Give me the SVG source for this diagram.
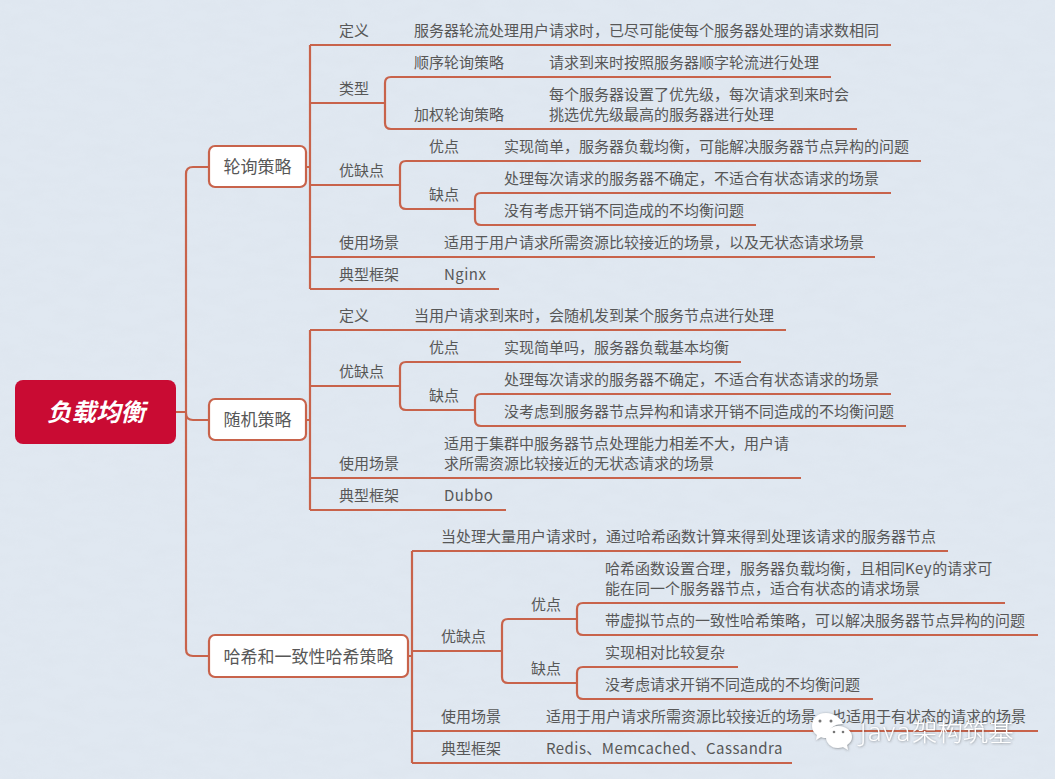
<svg xmlns="http://www.w3.org/2000/svg" width="1055" height="779" viewBox="0 0 1055 779">
<defs>
<filter id="paper" x="0" y="0" width="100%" height="100%"><feTurbulence type="fractalNoise" baseFrequency="0.035 0.09" numOctaves="4" seed="7"/><feColorMatrix values="0 0 0 0 0.62  0 0 0 0 0.66  0 0 0 0 0.72  0.5 0 0 0 -0.17"/></filter>
<filter id="wm" x="-10%" y="-20%" width="120%" height="140%"><feDropShadow dx="0.5" dy="0.5" stdDeviation="0.8" flood-color="#444" flood-opacity="0.6"/></filter>
</defs>
<style>
text{font-family:"Noto Sans CJK SC","Open Sans",sans-serif;font-size:15px;fill:#575757}
.c path{fill:none;stroke:#c8634b;stroke-width:2.2}
.n rect{fill:#fff;stroke:#c8634b;stroke-width:2.2}
.n text{font-size:17px;text-anchor:middle}
.l{letter-spacing:.45px}
.wt{font-family:"Open Sans","Noto Sans CJK SC",sans-serif;font-size:25.4px;font-weight:300;fill:#fff}
</style>
<rect width="1055" height="779" fill="#e0e8f1"/>
<rect width="1055" height="779" filter="url(#paper)" opacity="0.35"/>
<g id="connectors" class="c">
<path d="M176 412H186M208 167H193Q186 167 186 174V649Q186 656 193 656H208M186 413Q186 420 193 420H208"/>
<path d="M306 167H310M310 45V289M310 45H891M310 103H385M385 83Q385 77 391 77H831M385 83V123Q385 129 391 129H857M310 185H400M400 167Q400 161 406 161H921M400 167V203Q400 209 406 209H475M475 199Q475 193 481 193H891M475 199V219Q475 225 481 225H756M310 257H875M310 289H499"/>
<path d="M306 420H310M310 330V510M310 330H786M310 386H400M400 368Q400 362 406 362H741M400 368V404Q400 410 406 410H475M475 400Q475 394 481 394H891M475 400V420Q475 426 481 426H906M310 478H801M310 510H506"/>
<path d="M408 656H412M412 551V763M412 551H948M412 651H502M502 625Q502 619 508 619H577M502 625V677Q502 683 508 683H577M577 609Q577 603 583 603H1005M577 609V629Q577 635 583 635H1038M577 673Q577 667 583 667H738M577 673V693Q577 699 583 699H873M412 731H1038M412 763H792"/>
</g>
<g id="root"><rect x="15" y="380" width="161" height="64" rx="8" fill="#c90b33"/><text x="96" y="421" text-anchor="middle" style="font-size:24.500px;font-weight:700;font-style:italic;fill:#fff">负载均衡</text></g>
<g id="n1" class="n"><rect x="209" y="146" width="97" height="41" rx="6"/><text x="257.500" y="173">轮询策略</text></g>
<g id="n2" class="n"><rect x="209" y="399" width="97" height="41" rx="6"/><text x="257.500" y="426">随机策略</text></g>
<g id="n3" class="n"><rect x="209" y="635" width="199" height="42" rx="6"/><text x="308.500" y="663">哈希和一致性哈希策略</text></g>
<g id="b1">
<text x="339" y="36">定义</text><text x="414" y="36">服务器轮流处理用户请求时，已尽可能使每个服务器处理的请求数相同</text>
<text x="339" y="94">类型</text><text x="414" y="68">顺序轮询策略</text><text x="549" y="68">请求到来时按照服务器顺字轮流进行处理</text>
<text x="414" y="120">加权轮询策略</text><text x="549" y="100">每个服务器设置了优先级，每次请求到来时会</text><text x="549" y="120">挑选优先级最高的服务器进行处理</text>
<text x="339" y="176">优缺点</text><text x="429" y="152">优点</text><text x="504" y="152">实现简单，服务器负载均衡，可能解决服务器节点异构的问题</text>
<text x="429" y="200">缺点</text><text x="504" y="184">处理每次请求的服务器不确定，不适合有状态请求的场景</text><text x="504" y="216">没有考虑开销不同造成的不均衡问题</text>
<text x="339" y="248">使用场景</text><text x="444" y="248">适用于用户请求所需资源比较接近的场景，以及无状态请求场景</text>
<text x="339" y="280">典型框架</text><text class="l" x="444" y="280">Nginx</text>
</g>
<g id="b2">
<text x="339" y="321">定义</text><text x="414" y="321">当用户请求到来时，会随机发到某个服务节点进行处理</text>
<text x="339" y="377">优缺点</text><text x="429" y="353">优点</text><text x="504" y="353">实现简单吗，服务器负载基本均衡</text>
<text x="429" y="401">缺点</text><text x="504" y="385">处理每次请求的服务器不确定，不适合有状态请求的场景</text><text x="504" y="417">没考虑到服务器节点异构和请求开销不同造成的不均衡问题</text>
<text x="339" y="469">使用场景</text><text x="444" y="449">适用于集群中服务器节点处理能力相差不大，用户请</text><text x="444" y="469">求所需资源比较接近的无状态请求的场景</text>
<text x="339" y="501">典型框架</text><text class="l" x="444" y="501">Dubbo</text>
</g>
<g id="b3">
<text x="441" y="542">当处理大量用户请求时，通过哈希函数计算来得到处理该请求的服务器节点</text>
<text x="441" y="642">优缺点</text><text x="531" y="610">优点</text><text x="531" y="674">缺点</text>
<text x="605" y="574">哈希函数设置合理，服务器负载均衡，且相同<tspan class="l">Key</tspan>的请求可</text><text x="605" y="594">能在同一个服务器节点，适合有状态的请求场景</text>
<text x="605" y="626">带虚拟节点的一致性哈希策略，可以解决服务器节点异构的问题</text>
<text x="605" y="658">实现相对比较复杂</text><text x="605" y="690">没考虑请求开销不同造成的不均衡问题</text>
<text x="441" y="722">使用场景</text><text x="546" y="722">适用于用户请求所需资源比较接近的场景，也适用于有状态的请求的场景</text>
<text x="441" y="754">典型框架</text><text class="l" x="546" y="754">Redis、Memcached、Cassandra</text>
</g>
<g id="watermark" filter="url(#wm)">
<path d="M826 713C817 713 812 719 812 726C812 730 814 733 817 735L816 740L821 737C823 738 825 738 827 738C827 729 835 723 843 724C841 718 834 713 826 713Z" fill="#fff"/>
<path d="M838 726C831 726 826 731 826 737C826 743 831 748 838 748C840 748 842 747 843 747L848 750L847 745C850 743 852 740 852 737C852 731 846 726 838 726Z" fill="#fff"/>
<circle cx="820" cy="721" r="1.500" fill="#777"/><circle cx="831" cy="721" r="1.500" fill="#777"/><circle cx="834" cy="732" r="1.300" fill="#777"/><circle cx="843" cy="732" r="1.300" fill="#777"/>
<text class="wt" x="860" y="741"><tspan letter-spacing="1.800">Java</tspan>架构筑基</text>
</g>
</svg>
